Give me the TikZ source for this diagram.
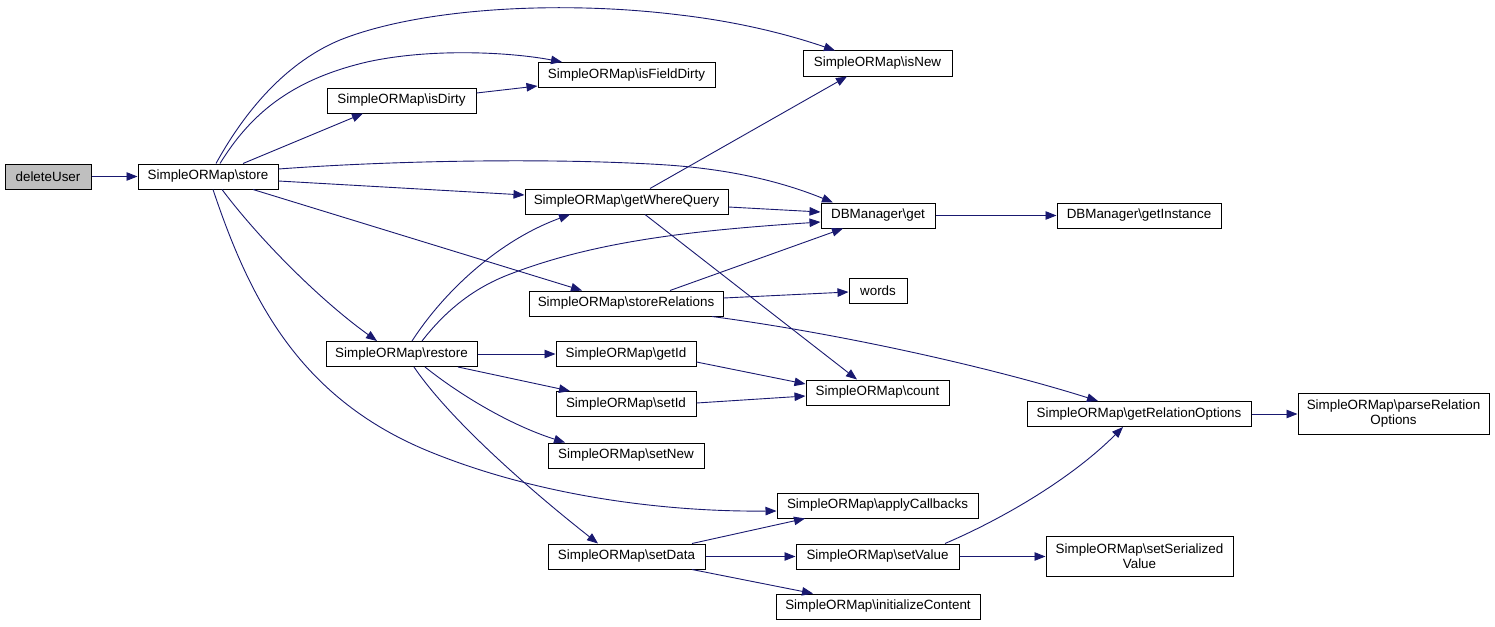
\documentclass[tikz,border=0pt]{standalone}
\usepackage{fontspec}
\setmainfont{Liberation Sans}
\usetikzlibrary{arrows.meta}
\definecolor{edgeblue}{HTML}{191970}
\definecolor{rootgrey}{HTML}{BFBFBF}
\tikzset{
  fn/.style={draw=black, line width=1pt, fill=white, inner sep=0pt, minimum height=25pt,
    font=\fontsize{13.4}{15}\selectfont, align=center},
  call/.style={draw=edgeblue, line width=0.9pt, -{Triangle[length=11pt,width=8.5pt]}},
}
\newcommand{\bs}{\textbackslash}
\begin{document}
\begin{tikzpicture}[x=1pt,y=-1pt]
\useasboundingbox[fill=white] (0,0) rectangle (1495,626);
% nodes
\node[fn, fill=rootgrey, minimum width=86pt] (du) at (48,176.5) {deleteUser};
\node[fn, minimum width=140pt] (store) at (208,176.5) {SimpleORMap\bs store};
\node[fn, minimum width=149pt] (isDirty) at (401.5,100.5) {SimpleORMap\bs isDirty};
\node[fn, minimum width=177pt] (isFieldDirty) at (626.5,75) {SimpleORMap\bs isFieldDirty};
\node[fn, minimum width=149pt] (isNew) at (877.5,63.5) {SimpleORMap\bs isNew};
\node[fn, minimum width=203pt] (gwq) at (626.5,201.5) {SimpleORMap\bs getWhereQuery};
\node[fn, minimum width=114pt] (dbget) at (878,215.5) {DBManager\bs get};
\node[fn, minimum width=164pt] (getInstance) at (1139,215.5) {DBManager\bs getInstance};
\node[fn, minimum width=58pt] (words) at (878,291) {words};
\node[fn, minimum width=194pt] (storeRel) at (626,303.5) {SimpleORMap\bs storeRelations};
\node[fn, minimum width=151pt] (restore) at (401.5,354) {SimpleORMap\bs restore};
\node[fn, minimum width=140pt] (getId) at (626,354) {SimpleORMap\bs getId};
\node[fn, minimum width=143pt] (count) at (877.5,392.5) {SimpleORMap\bs count};
\node[fn, minimum width=140pt] (setId) at (626,404) {SimpleORMap\bs setId};
\node[fn, minimum width=224pt] (gro) at (1139,414) {SimpleORMap\bs getRelationOptions};
\node[fn, minimum width=191pt, minimum height=41pt] (parse) at (1393.5,414) {SimpleORMap\bs parseRelation\\Options};
\node[fn, minimum width=156pt] (setNew) at (626,455.5) {SimpleORMap\bs setNew};
\node[fn, minimum width=201pt] (applyCb) at (877.5,505.5) {SimpleORMap\bs applyCallbacks};
\node[fn, minimum width=157pt] (setData) at (626.5,556.5) {SimpleORMap\bs setData};
\node[fn, minimum width=163pt] (setValue) at (877.5,556.5) {SimpleORMap\bs setValue};
\node[fn, minimum width=187pt, minimum height=40pt] (setSer) at (1139.5,556.5) {SimpleORMap\bs setSerialized\\Value};
\node[fn, minimum width=204pt] (initC) at (878,606.5) {SimpleORMap\bs initializeContent};
% edges
\draw[call] (du.east) -- (store.west);
\draw[call] ([xshift=8pt]store.north) .. controls (240,120) and (280,65) .. (340,40)
   .. controls (420,8) and (560,0) .. (680,15)
   .. controls (740,22) and (790,35) .. ([xshift=-42.5pt]isNew.north);
\draw[call] ([xshift=12pt]store.north) .. controls (250,115) and (290,80) .. (367,62)
   .. controls (430,48) and (510,52) .. ([xshift=-64.5pt]isFieldDirty.north);
\draw[call] ([xshift=35pt]store.north) -- ([xshift=-38.5pt]isDirty.south);
\draw[call] ([yshift=7.5pt]isDirty.east) -- ([yshift=-11pt]isFieldDirty.west);
\draw[call] ([yshift=7.5pt]store.east) .. controls (400,160) and (560,158) .. (667,165)
   .. controls (740,170) and (790,185) .. ([xshift=-45pt]dbget.north);
\draw[call] ([yshift=-4.5pt]store.east) -- ([yshift=6.5pt]gwq.west);
\draw[call] ([xshift=45pt]store.south) -- ([xshift=-44pt]storeRel.north);
\draw[call] ([xshift=14pt]store.south) .. controls (260,240) and (320,300) .. ([xshift=-24.5pt]restore.north);
\draw[call] ([xshift=5pt]store.south) .. controls (250,300) and (300,400) .. (433,453)
   .. controls (530,492) and (650,512) .. ([yshift=-5.5pt]applyCb.west);
\draw[call] ([xshift=23.5pt]gwq.north) -- ([xshift=-30.5pt]isNew.south);
\draw[call] ([yshift=-5.5pt]gwq.east) -- ([yshift=3.5pt]dbget.west);
\draw[call] ([xshift=18.5pt]gwq.south) -- ([xshift=-20.5pt]count.north);
\draw[call] (dbget.east) -- (getInstance.west);
\draw[call] ([xshift=44pt]storeRel.north) -- ([xshift=-35pt]dbget.south);
\draw[call] ([yshift=5.5pt]storeRel.east) -- ([yshift=-1pt]words.west);
\draw[call] ([xshift=86pt]storeRel.south) .. controls (850,335) and (1000,370) .. ([xshift=-41pt]gro.north);
\draw[call] ([xshift=10.5pt]restore.north) .. controls (445,290) and (500,240) .. ([xshift=-56.5pt]gwq.south);
\draw[call] ([xshift=20.5pt]restore.north) .. controls (450,305) and (480,285) .. (513,273)
   .. controls (600,240) and (700,230) .. ([yshift=-6.5pt]dbget.west);
\draw[call] (restore.east) -- (getId.west);
\draw[call] ([xshift=56.5pt]restore.south) -- ([xshift=-56pt]setId.north);
\draw[call] ([xshift=23.5pt]restore.south) .. controls (460,395) and (510,425) .. ([xshift=-61pt]setNew.north);
\draw[call] ([xshift=12.5pt]restore.south) .. controls (450,420) and (530,490) .. ([xshift=-28.5pt]setData.north);
\draw[call] ([yshift=-8pt]getId.east) -- ([yshift=8.5pt]count.west);
\draw[call] ([yshift=1pt]setId.east) -- ([yshift=-3.5pt]count.west);
\draw[call] (gro.east) -- (parse.west);
\draw[call] ([xshift=65.5pt]setData.north) -- ([xshift=-72.5pt]applyCb.south);
\draw[call] (setData.east) -- (setValue.west);
\draw[call] ([xshift=65.5pt]setData.south) -- ([xshift=-65pt]initC.north);
\draw[call] ([xshift=67.5pt]setValue.north) .. controls (1000,520) and (1070,480) .. ([xshift=-16pt]gro.south);
\draw[call] (setValue.east) -- (setSer.west);
\end{tikzpicture}
\end{document}
